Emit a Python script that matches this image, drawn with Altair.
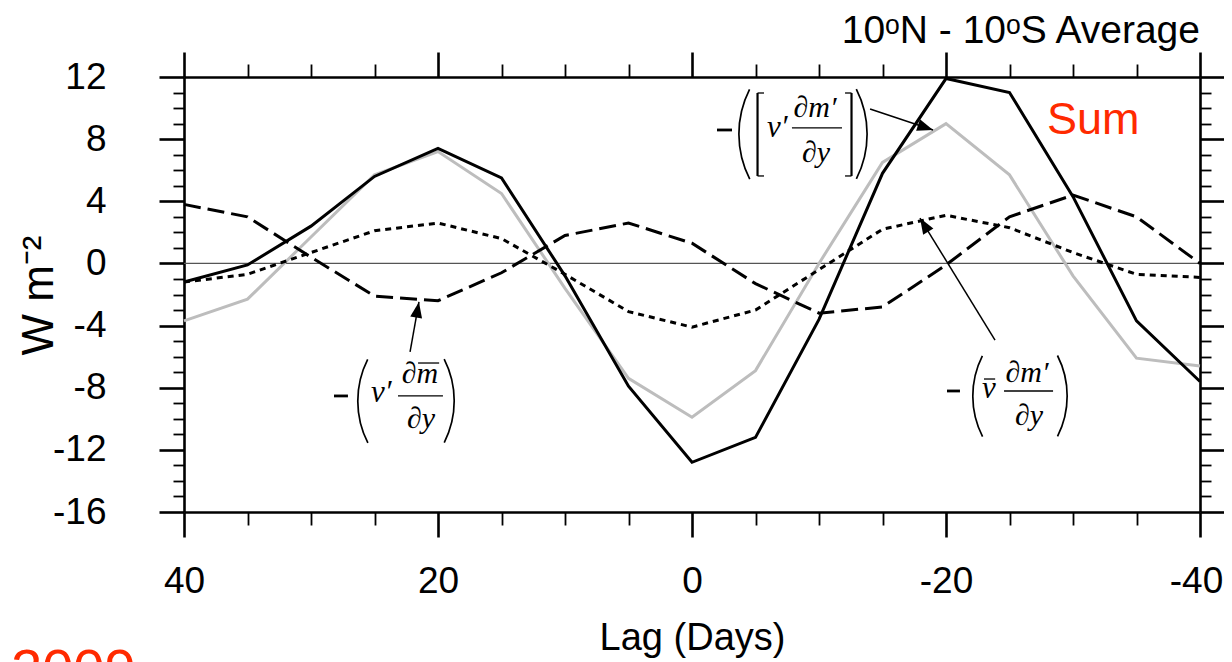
import altair as alt
import pandas as pd

# ---------------- data ----------------
lags = [40, 35, 30, 25, 20, 15, 10, 5, 0, -5, -10, -15, -20, -25, -30, -35, -40]
sum_total = [-1.2, -0.1, 2.4, 5.6, 7.4, 5.5, -0.8, -7.9, -12.8, -11.2, -3.6, 5.8, 11.9, 11.0, 4.3, -3.7, -7.6]
eddy_eddy = [-3.7, -2.3, 1.7, 5.7, 7.2, 4.5, -1.6, -7.4, -9.9, -6.9, 0.0, 6.5, 9.0, 5.7, -0.8, -6.1, -6.6]
eddy_meangrad = [3.8, 3.0, 0.4, -2.1, -2.4, -0.6, 1.8, 2.6, 1.3, -1.3, -3.2, -2.8, -0.1, 3.0, 4.4, 3.0, 0.0]
meanwind_eddy = [-1.2, -0.7, 0.7, 2.1, 2.6, 1.6, -0.7, -3.1, -4.1, -3.0, -0.4, 2.2, 3.1, 2.3, 0.7, -0.7, -0.9]

x_ticks = list(range(-40, 41, 5))
y_ticks = list(range(-16, 13, 1))

SANS = "Liberation Sans"
SERIF = "Liberation Serif"

xs = alt.Scale(domain=[40, -40], nice=False, zero=False)
ys = alt.Scale(domain=[-16, 12], nice=False, zero=False)

MAJ_X = "datum.value % 20 === 0"
MAJ_Y = "datum.value % 4 === 0"


def x_axis(orient, show):
    if show:
        extra = dict(title="Lag (Days)", titleX=508, titleY=137, titleBaseline="alphabetic",
                     titleAlign="center")
    else:
        extra = dict(title=None)
    return alt.Axis(
        orient=orient, values=x_ticks, grid=False, labels=show,
        labelExpr=f"{MAJ_X} ? '' + datum.value : ''",
        labelFont=SANS, labelFontSize=37, labelColor="black",
        labelPadding=26, labelOverlap=False, labelFlush=False,
        labelOffset={"condition": {"test": "datum.value === -40", "value": -4}, "value": 0},
        tickSize={"condition": {"test": MAJ_X, "value": 25}, "value": 13},
        tickWidth={"condition": {"test": MAJ_X, "value": 2.6}, "value": 1.8},
        tickColor="black", domainColor="black", domainWidth=2.6,
        titleFont=SANS, titleFontSize=38, titleFontWeight="normal", titleColor="black",
        **extra,
    )


def y_axis(orient, show):
    if show:
        extra = dict(title="W m⁻²", titleX=-132, titleY=218, titleAngle=270,
                     titleBaseline="alphabetic", titleAlign="center")
    else:
        extra = dict(title=None)
    return alt.Axis(
        orient=orient, values=y_ticks, grid=False, labels=show,
        labelExpr=f"{MAJ_Y} ? '' + datum.value : ''",
        labelFont=SANS, labelFontSize=37, labelColor="black",
        labelPadding=53, labelOverlap=False, labelFlush=False,
        tickSize={"condition": {"test": MAJ_Y, "value": 25}, "value": 11},
        tickWidth={"condition": {"test": MAJ_Y, "value": 2.6}, "value": 1.8},
        tickColor="black", domainColor="black", domainWidth=2.6,
        titleFont=SANS, titleFontSize=44, titleFontWeight="normal", titleColor="black",
        **extra,
    )


def line(values, color, width, dash=None, xa=None, ya=None):
    props = dict(color=color, strokeWidth=width, strokeCap="butt", strokeJoin="miter")
    if dash:
        props["strokeDash"] = dash
    return alt.Chart(pd.DataFrame({"lag": lags, "value": values})).mark_line(**props).encode(
        x=alt.X("lag:Q", scale=xs, axis=xa),
        y=alt.Y("value:Q", scale=ys, axis=ya),
    )


def txt(lag, val, s, size, font=SERIF, style="italic", align="center", color="black"):
    return alt.Chart(pd.DataFrame({"lag": [lag], "val": [val], "t": [s]})).mark_text(
        font=font, fontSize=size, fontStyle=style, align=align, baseline="alphabetic", color=color
    ).encode(
        x=alt.X("lag:Q", scale=xs, axis=None),
        y=alt.Y("val:Q", scale=ys, axis=None),
        text="t:N",
    )


def segs(rows, width):
    df = pd.DataFrame(rows, columns=["l1", "v1", "l2", "v2"])
    return alt.Chart(df).mark_rule(color="black", strokeWidth=width, strokeCap="butt").encode(
        x=alt.X("l1:Q", scale=xs, axis=None),
        y=alt.Y("v1:Q", scale=ys, axis=None),
        x2="l2:Q", y2="v2:Q",
    )


def paren(lag, val, r, left):
    t1, t2 = (4.24, 5.18) if left else (1.10, 2.04)
    return alt.Chart(pd.DataFrame({"lag": [lag], "val": [val]})).mark_arc(color="black").encode(
        x=alt.X("lag:Q", scale=xs, axis=None),
        y=alt.Y("val:Q", scale=ys, axis=None),
        theta=alt.value(t1), theta2=alt.value(t2),
        radius=alt.value(r), radius2=alt.value(r - 1.7),
    )


def head(lag, val, ang):
    return alt.Chart(pd.DataFrame({"lag": [lag], "val": [val]})).mark_point(
        shape="M0,0 L0.38,1 L-0.38,1 Z", filled=True, size=1000, angle=ang,
        color="black", opacity=1, strokeWidth=0,
    ).encode(
        x=alt.X("lag:Q", scale=xs, axis=None),
        y=alt.Y("val:Q", scale=ys, axis=None),
    )


zero = alt.Chart(pd.DataFrame({"v": [0]})).mark_rule(color="#555555", strokeWidth=1.2).encode(
    y=alt.Y("v:Q", scale=ys, axis=None)
)

layers = [
    zero,
    line(eddy_eddy, "#bdbdbd", 3, xa=x_axis("top", False), ya=y_axis("right", False)),
    line(eddy_meangrad, "black", 3, dash=[17, 7]),
    line(meanwind_eddy, "black", 3, dash=[6, 5]),
    line(sum_total, "black", 3, xa=x_axis("bottom", True), ya=y_axis("left", True)),
    # title & labels
    txt(-40, 14.19, "10ᵒN - 10ᵒS Average", 39, font=SANS, style="normal", align="right"),
    txt(-27.95, 8.33, "Sum", 45, font=SANS, style="normal", align="left", color="#ff2a00"),
    txt(53.62, -27.33, "2009", 56, font=SANS, style="normal", align="left", color="#ff2a00"),
    # annotation 1: -( v' d(mbar)/dy )
    txt(25.28, -8.92, "v′", 31, align="left"),
    txt(21.42, -7.70, "∂m", 30),
    txt(21.34, -10.59, "∂y", 30),
    paren(19.06, -8.85, 93, True),
    paren(25.98, -8.85, 93, False),
    # annotation 2: -( vbar dm'/dy )
    txt(-22.83, -8.66, "v", 31, align="left"),
    txt(-26.38, -7.63, "∂m′", 30),
    txt(-26.54, -10.40, "∂y", 30),
    paren(-29.13, -8.53, 90, True),
    paren(-22.52, -8.53, 90, False),
    # annotation 3: -( [ v' dm'/dy ] )
    txt(-5.91, 8.14, "v′", 31, align="left"),
    txt(-9.69, 9.43, "∂m′", 30),
    txt(-9.76, 6.53, "∂y", 30),
    paren(-11.50, 8.33, 100, True),
    paren(-5.98, 8.33, 100, False),
    # thick minus signs
    segs([[28.19, -8.53, 27.09, -8.53], [-20.08, -8.21, -21.10, -8.21], [-1.97, 8.59, -3.15, 8.59]], 2.8),
    # fraction bars, over-bars, square brackets
    segs([
        [23.15, -8.53, 19.61, -8.53],
        [-24.57, -8.21, -28.43, -8.21],
        [-7.87, 8.72, -11.81, 8.72],
        [21.57, -6.41, 19.91, -6.41],
        [-22.99, -7.44, -23.87, -7.44],
    ], 1.3),
    segs([
        [-5.16, 10.97, -5.16, 5.63],
        [-12.56, 10.97, -12.56, 5.63],
    ], 2.2),
    segs([
        [-5.16, 10.97, -5.67, 10.97],
        [-5.16, 5.63, -5.67, 5.63],
        [-12.56, 10.97, -12.05, 10.97],
        [-12.56, 5.63, -12.05, 5.63],
    ], 1.3),
    # arrows
    segs([
        [22.2, -5.70, 21.5, -2.48],
        [-23.86, -4.93, -17.95, 2.92],
        [-14.02, 9.94, -18.98, 8.59],
    ], 1.5),
    head(21.5, -2.48, 10.2),
    head(-17.95, 2.92, 328.4),
    head(-18.98, 8.59, 108.4),
]

chart = alt.layer(*layers).resolve_axis(x="independent", y="independent").properties(
    width=1016, height=435,
    padding={"left": 176, "top": 69, "right": 24, "bottom": 160},
    autosize=alt.AutoSizeParams(type="none"),
).configure_view(stroke=None).configure(background="white")

chart.save("out.html", embed_options={"renderer": "svg", "actions": False})
